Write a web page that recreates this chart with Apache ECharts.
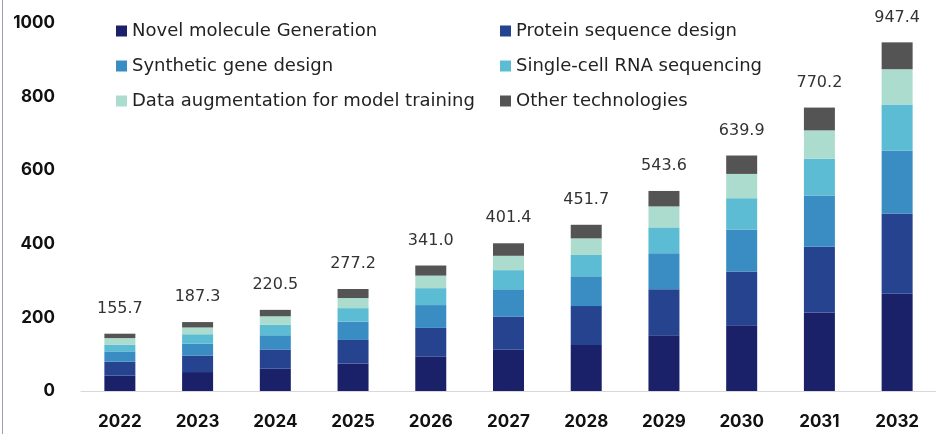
<!DOCTYPE html>
<html lang="en">
  <head>
    <meta charset="UTF-8" />
    <title>Generative AI in biology market</title>
    <script src="https://cdn.jsdelivr.net/npm/echarts@6/dist/echarts.min.js"></script>
  </head>
  <body style="margin: 0; background: #fff">
    <div id="container" style="width: 936px; height: 434px"></div>
    <script>
      const years = ["2022", "2023", "2024", "2025", "2026", "2027", "2028", "2029", "2030", "2031", "2032"];
      const totals = ["155.7", "187.3", "220.5", "277.2", "341.0", "401.4", "451.7", "543.6", "639.9", "770.2", "947.4"];

      const novelMolecule = [41.6, 51.5, 60.5, 74.7, 93.5, 111.9, 124.7, 151.6, 178.9, 213.2, 264.4];
      const proteinDesign = [38, 45, 52.4, 64, 78, 90.5, 106, 125, 146, 179, 218];
      const syntheticGene = [28, 32, 38.6, 50, 62, 74, 81, 98, 114, 139, 171];
      const singleCellRna = [18.5, 25.7, 28.5, 36.5, 46, 52, 58, 70, 85, 100, 125];
      const dataAugment = [17.6, 18.4, 23, 27.4, 34, 39, 45, 57, 66, 77, 96];
      const otherTech = [12, 14.7, 17.5, 24.6, 27.5, 34, 37, 42, 50, 62, 73];

      const seriesNames = [
        "Novel molecule Generation",
        "Protein sequence design",
        "Synthetic gene design",
        "Single-cell RNA sequencing",
        "Data augmentation for model training",
        "Other technologies"
      ];
      const colors = ["#1b2168", "#25438f", "#3a8dc3", "#5bbcd4", "#acdccd", "#545454"];
      const values = [novelMolecule, proteinDesign, syntheticGene, singleCellRna, dataAugment, otherTech];

      const chart = echarts.init(document.getElementById("container"));

      const series = values.map((v, i) => {
        const s = {
          name: seriesNames[i],
          type: "bar",
          stack: "total",
          barWidth: 31,
          data: v,
          itemStyle: { color: colors[i] }
        };
        if (i === values.length - 1) {
          // total label on top of the stack
          s.label = {
            show: true,
            position: "top",
            distance: 17,
            color: "#333",
            fontSize: 16,
            fontFamily: "DejaVu Sans",
            formatter: p => totals[p.dataIndex]
          };
        }
        return s;
      });

      const legendText = { fontSize: 18, color: "#222", fontFamily: "DejaVu Sans" };
      const legendBase = {
        orient: "vertical",
        top: 17,
        itemWidth: 11,
        itemHeight: 11,
        itemGap: 17,
        icon: "rect",
        textStyle: legendText
      };

      chart.setOption({
        animation: false,
        color: colors,
        grid: { left: 81, right: 0, top: 23, bottom: 43 },
        legend: [
          Object.assign({ left: 111, data: [seriesNames[0], seriesNames[2], seriesNames[4]] }, legendBase),
          Object.assign({ left: 495, data: [seriesNames[1], seriesNames[3], seriesNames[5]] }, legendBase)
        ],
        xAxis: {
          type: "category",
          data: years,
          axisTick: { show: false },
          axisLine: { lineStyle: { color: "#d8d8dc" } },
          axisLabel: {
            margin: 22,
            fontSize: 17,
            fontWeight: "bold",
            color: "#111",
            fontFamily: "Inter"
          }
        },
        yAxis: {
          type: "value",
          min: 0,
          max: 1000,
          interval: 200,
          splitLine: { show: false },
          axisLabel: {
            margin: 26,
            fontSize: 17,
            fontWeight: "bold",
            color: "#111",
            fontFamily: "Inter",
            formatter: v => String(v)
          }
        },
        graphic: [
          {
            type: "rect",
            left: 2,
            top: 0,
            shape: { width: 1, height: 434 },
            style: { fill: "#9aa0b0" }
          }
        ],
        series: series
      });
    </script>
  </body>
</html>
